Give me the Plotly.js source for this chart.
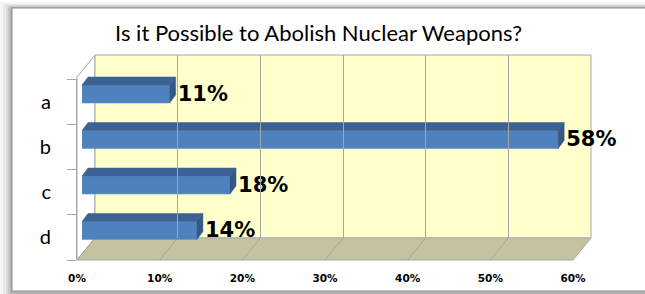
<!DOCTYPE html>
<html>
<head>
<meta charset="utf-8">
<script src="https://cdn.plot.ly/plotly-3.0.1.min.js"></script>
<style>html,body{margin:0;padding:0;background:#fff;}#chart{width:645px;height:294px;}</style>
</head>
<body>
<div id="chart"></div>
<script>
// ---- data ----
const categories = ['a', 'b', 'c', 'd'];
const values = [10.6, 57.6, 17.9, 13.9];
const valueLabels = ['11%', '58%', '18%', '14%'];
const tickValues = [0, 10, 20, 30, 40, 50, 60];
const tickLabels = ['0%', '10%', '20%', '30%', '40%', '50%', '60%'];
const titleText = 'Is it Possible to Abolish Nuclear Weapons?';

// ---- geometry (pixels) ----
const W = 645, H = 294;
const px = x => x / W;
const py = y => 1 - y / H;
const FX0 = 77, FX1 = 573;      // front floor edge
const BX0 = 95, BX1 = 591;      // back wall
const FLOOR_FRONT = 260, FLOOR_BACK = 238, WALL_TOP = 55, SIDE_TOP = 77;
const BARX0 = 82, BARX1 = 578;
const catIdx = categories.map((c, i) => i);
const unitPx = (BARX1 - BARX0) / 60;
const barCenterTop = 94, barPitch = 45.5;
const dx = 6 / unitPx;          // depth in value units
const dy = 8 / barPitch;        // depth in category units
const bw = 18 / barPitch;       // bar front thickness

// 3D faces from data
const topX = [], topY = [], sideX = [], sideY = [];
values.forEach((v, i) => {
  const yt = i - bw / 2, yb = i + bw / 2;
  topX.push(0, v, v + dx, dx, 0, null);
  topY.push(yt, yt, yt - dy, yt - dy, yt, null);
  sideX.push(v, v + dx, v + dx, v, v, null);
  sideY.push(yt, yt - dy, yb - dy, yb, yt, null);
});

const traces = [
  {type: 'scatter', x: [], y: [], xaxis: 'x2', yaxis: 'y2', hoverinfo: 'skip', showlegend: false},
  {type: 'scatter', x: [], y: [], xaxis: 'x3', yaxis: 'y3', hoverinfo: 'skip', showlegend: false},
  {type: 'scatter', mode: 'lines', x: topX, y: topY, fill: 'toself', fillcolor: '#3c6193',
   line: {width: 0.5, color: '#3c6193'}, hoverinfo: 'skip', showlegend: false},
  {type: 'scatter', mode: 'lines', x: sideX, y: sideY, fill: 'toself', fillcolor: '#345885',
   line: {width: 0.5, color: '#345885'}, hoverinfo: 'skip', showlegend: false},
  {type: 'bar', orientation: 'h', x: values, y: catIdx, width: bw,
   marker: {color: '#4f81bd', line: {color: '#6a96cc', width: 0.6}}, hoverinfo: 'skip', showlegend: false},
  {type: 'scatter', mode: 'text', x: values.map(v => v + dx + 0.25), y: catIdx.map(i => i + 0.03),
   text: valueLabels, textposition: 'middle right', cliponaxis: false,
   textfont: {family: 'DejaVu Sans', size: 21, color: '#000', weight: 700},
   hoverinfo: 'skip', showlegend: false}
];

const grey = '#a6a6a6';
const shapes = [];
// shadow + chart area
[[0, 2, 0.04], [3, 4, 0.05], [6, 5, 0.06], [8, 6, 0.08], [10, 7, 0.1]].forEach(s => {
  shapes.push({type: 'rect', xref: 'paper', yref: 'paper', x0: px(s[0]), x1: px(700), y0: py(s[1]), y1: py(294 + 10),
    fillcolor: 'rgba(0,0,0,' + s[2] + ')', line: {width: 0}, layer: 'below'});
});
shapes.push({type: 'rect', xref: 'paper', yref: 'paper', x0: px(12), x1: px(700), y0: py(8), y1: py(291),
  fillcolor: '#ffffff', line: {color: '#8c8c8c', width: 1}, layer: 'below'});
function path(pts) {
  return 'M' + pts.map(p => px(p[0]) + ',' + py(p[1])).join(' L') + ' Z';
}
// side wall
shapes.push({type: 'path', xref: 'paper', yref: 'paper', path: path([[FX0, SIDE_TOP], [BX0, WALL_TOP], [BX0, FLOOR_BACK], [FX0, FLOOR_FRONT]]),
  fillcolor: '#ffffff', line: {color: grey, width: 1}, layer: 'below'});
// back wall
shapes.push({type: 'path', xref: 'paper', yref: 'paper', path: path([[BX0, WALL_TOP], [BX1, WALL_TOP], [BX1, FLOOR_BACK], [BX0, FLOOR_BACK]]),
  fillcolor: '#ffffcc', line: {color: grey, width: 1}, layer: 'below'});
// floor
shapes.push({type: 'path', xref: 'paper', yref: 'paper', path: path([[FX0, FLOOR_FRONT], [FX1, FLOOR_FRONT], [BX1, FLOOR_BACK], [BX0, FLOOR_BACK]]),
  fillcolor: '#c4c29f', line: {color: grey, width: 1}, layer: 'below'});
// floor grid diagonals
const depthUnits = (BX0 - FX0) / ((FX1 - FX0) / 60);
tickValues.forEach(t => {
  shapes.push({type: 'line', xref: 'x2', yref: 'paper', x0: t, x1: t + depthUnits, y0: py(FLOOR_FRONT), y1: py(FLOOR_BACK),
    line: {color: grey, width: 1}, layer: 'below'});
});

const layout = {
  width: W, height: H,
  margin: {l: 0, r: 0, t: 0, b: 0},
  paper_bgcolor: '#ffffff', plot_bgcolor: 'rgba(0,0,0,0)',
  hovermode: false, showlegend: false,
  title: {text: titleText, x: 0.494, xanchor: 'center', y: py(33), yanchor: 'middle',
    font: {family: 'Lato', size: 22, color: '#000'}},
  xaxis: {domain: [px(BARX0), px(BARX1)], range: [0, 60], visible: false, fixedrange: true, anchor: 'y'},
  yaxis: {domain: [py(barCenterTop + 3.5 * barPitch), py(barCenterTop - 0.5 * barPitch)], range: [3.5, -0.5],
    visible: false, fixedrange: true, anchor: 'x'},
  xaxis2: {domain: [px(FX0), px(FX1)], range: [0, 60], anchor: 'y2', tickmode: 'array', tickvals: tickValues, ticktext: tickLabels,
    showgrid: false, zeroline: false, showline: false, ticks: '', ticklabelstandoff: 10,
    tickfont: {family: 'DejaVu Sans', size: 10.5, color: '#000', weight: 700}, fixedrange: true},
  yaxis2: {domain: [py(FLOOR_FRONT), py(79)], range: [3.5, -0.5], anchor: 'x2', tickmode: 'array', tickvals: catIdx, ticktext: categories,
    showgrid: false, zeroline: false, showline: true, linecolor: grey, linewidth: 1, ticks: '', ticklabelstandoff: 21,
    minor: {tickmode: 'array', tickvals: [-0.5, 0.5, 1.5, 2.5, 3.5], ticks: 'outside', ticklen: 9, tickcolor: grey, tickwidth: 1, showgrid: false},
    tickfont: {family: 'Lato', size: 20, color: '#000'}, fixedrange: true},
  xaxis3: {domain: [px(BX0), px(BX1)], range: [0, 60], anchor: 'y3', tickmode: 'array', tickvals: tickValues,
    showgrid: true, gridcolor: grey, gridwidth: 1, showticklabels: false, ticks: '', zeroline: false, showline: false, fixedrange: true},
  yaxis3: {domain: [py(FLOOR_BACK), py(WALL_TOP)], range: [0, 1], anchor: 'x3', visible: false, fixedrange: true},
  shapes: shapes
};

Plotly.newPlot('chart', traces, layout, {displayModeBar: false, staticPlot: true});
</script>
</body>
</html>
